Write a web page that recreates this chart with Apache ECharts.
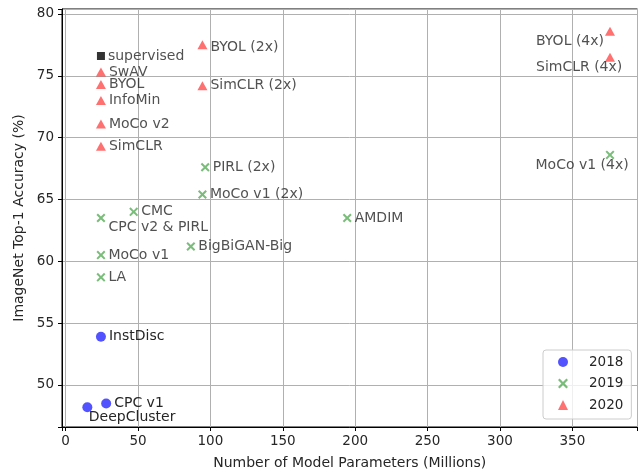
<!DOCTYPE html>
<html>
<head>
<meta charset="utf-8">
<script src="https://cdn.jsdelivr.net/npm/echarts@6/dist/echarts.min.js"></script>
<style>html,body{margin:0;padding:0;background:#fff}#c{width:639px;height:472px}</style>
</head>
<body>
<div id="c"></div>
<script>
// ---- data ----
const names2018 = ['InstDisc', 'CPC v1', 'DeepCluster'];
const params2018 = [24.4, 28, 15];
const acc2018 = [53.9, 48.5, 48.2];

const names2019 = ['CMC', 'CPC v2 & PIRL', 'MoCo v1', 'LA', 'BigBiGAN-Big', 'MoCo v1 (2x)', 'PIRL (2x)', 'AMDIM', 'MoCo v1 (4x)'];
const params2019 = [47, 24.4, 24.4, 24.4, 86.5, 94.5, 96.4, 194.5, 376];
const acc2019 = [64.0, 63.5, 60.5, 58.7, 61.2, 65.4, 67.6, 63.5, 68.6];

const names2020 = ['SwAV', 'BYOL', 'InfoMin', 'MoCo v2', 'SimCLR', 'BYOL (2x)', 'SimCLR (2x)', 'BYOL (4x)', 'SimCLR (4x)'];
const params2020 = [24.4, 24.4, 24.4, 24.4, 24.4, 94.5, 94.5, 376, 376];
const acc2020 = [75.3, 74.3, 73.0, 71.1, 69.3, 77.5, 74.2, 78.6, 76.5];

const namesSup = ['supervised'];
const paramsSup = [24.4];
const accSup = [76.6];

const legendNames = ['2018', '2019', '2020'];
const xTitle = 'Number of Model Parameters (Millions)';
const yTitle = 'ImageNet Top-1 Accuracy (%)';

// ---- styling ----
const labelOffsets = {
  'CPC v2 & PIRL': [0, 9],
  'DeepCluster': [-6.5, 10],
  'BYOL (4x)': [-82, 10],
  'SimCLR (4x)': [-82, 10],
  'MoCo v1 (4x)': [-82, 10],
  'BYOL (2x)': [0, 2]
};
const FONT = 'DejaVu Sans';
const TXT = '#262626';
const xSymbol = 'path://M0,1.6 L1.6,0 L5,3.4 L8.4,0 L10,1.6 L6.6,5 L10,8.4 L8.4,10 L5,6.6 L1.6,10 L0,8.4 L3.4,5 Z';

function build(names, xs, ys) {
  return names.map((n, i) => ({
    name: n,
    value: [xs[i], ys[i]],
    label: { offset: labelOffsets[n] || [0, 0] }
  }));
}
const labelCfg = {
  show: true, position: 'right', distance: 3,
  formatter: p => p.name, fontFamily: FONT, fontSize: 14, color: TXT
};

const chart = echarts.init(document.getElementById('c'), null, { renderer: 'canvas' });
chart.setOption({
  animation: false,
  backgroundColor: '#fff',
  textStyle: { fontFamily: FONT, color: TXT },
  grid: { left: 62, right: 1.5, top: 9, bottom: 45, containLabel: false, outerBoundsMode: 'none',
    show: true, borderColor: '#000', borderWidth: 1, backgroundColor: 'transparent' },
  xAxis: {
    type: 'value', min: -2.5, max: 395, splitNumber: 8,
    name: xTitle, nameLocation: 'middle', nameGap: 29,
    nameTextStyle: { fontFamily: FONT, fontSize: 14, color: TXT },
    axisLine: { show: true, onZero: false, lineStyle: { color: '#000', width: 1 } },
    axisTick: { show: true, length: 4, lineStyle: { color: '#000' } },
    axisLabel: { margin: 7, fontFamily: FONT, fontSize: 13.5, color: TXT,
      formatter: v => (Math.abs(v % 50) < 1e-6 ? String(v) : '') },
    splitLine: { show: true, lineStyle: { color: '#b0b0b0', width: 1 } }
  },
  yAxis: {
    type: 'value', min: 46.6, max: 80.4,
    name: yTitle, nameLocation: 'middle', nameGap: 36, nameRotate: 90,
    nameTextStyle: { fontFamily: FONT, fontSize: 14, color: TXT },
    axisLine: { show: true, onZero: false, lineStyle: { color: '#000', width: 1 } },
    axisTick: { show: true, length: 4, lineStyle: { color: '#000' } },
    axisLabel: { margin: 8, fontFamily: FONT, fontSize: 13.5, color: TXT,
      formatter: v => (Math.abs(v % 5) < 1e-6 ? String(v) : '') },
    splitLine: { show: true, lineStyle: { color: '#b0b0b0', width: 1 } }
  },
  legend: {
    data: legendNames, orient: 'vertical', left: 543, top: 350,
    padding: [5, 8, 7, 15], itemGap: 7.5, itemWidth: 10, itemHeight: 10,
    backgroundColor: 'rgba(255,255,255,0.8)', borderColor: '#cccccc', borderWidth: 1, borderRadius: 3,
    textStyle: { fontFamily: FONT, fontSize: 13.5, color: TXT, lineHeight: 14, padding: [0, 0, 0, 16] }
  },
  series: [
    { name: legendNames[0], type: 'scatter', symbol: 'circle', symbolSize: 10,
      itemStyle: { color: 'rgba(0,0,255,0.68)', opacity: 1 },
      label: labelCfg, data: build(names2018, params2018, acc2018) },
    { name: legendNames[1], type: 'scatter', symbol: xSymbol, symbolSize: 9,
      itemStyle: { color: 'rgba(0,128,0,0.65)' },
      label: labelCfg, data: build(names2019, params2019, acc2019) },
    { name: legendNames[2], type: 'scatter', symbol: 'triangle', symbolSize: [10, 9],
      itemStyle: { color: 'rgba(255,0,0,0.7)' },
      label: labelCfg, data: build(names2020, params2020, acc2020) },
    { name: 'supervised', type: 'scatter', symbol: 'rect', symbolSize: 8,
      itemStyle: { color: '#000' },
      label: labelCfg, data: build(namesSup, paramsSup, accSup) }
  ]
});
</script>
</body>
</html>
